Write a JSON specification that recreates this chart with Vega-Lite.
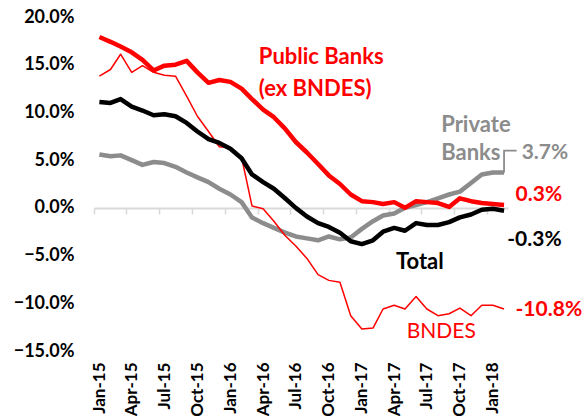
{
  "$schema": "https://vega.github.io/schema/vega-lite/v6.json",
  "width": 414,
  "height": 334,
  "autosize": {"type": "none"},
  "padding": {"left": 94, "top": 17, "right": 80, "bottom": 68},
  "config": {"view": {"stroke": null}, "font": "Lato", "text": {"font": "Lato"}},
  "datasets": {
    "credit": [
      {"date": "2015-01-01", "Public Banks": 17.9, "BNDES": 13.8, "Private Banks": 5.6, "Total": 11.1},
      {"date": "2015-02-01", "Public Banks": 17.4, "BNDES": 14.5, "Private Banks": 5.4, "Total": 11.0},
      {"date": "2015-03-01", "Public Banks": 16.9, "BNDES": 16.1, "Private Banks": 5.5, "Total": 11.4},
      {"date": "2015-04-01", "Public Banks": 16.3, "BNDES": 14.2, "Private Banks": 5.0, "Total": 10.6},
      {"date": "2015-05-01", "Public Banks": 15.5, "BNDES": 14.9, "Private Banks": 4.5, "Total": 10.2},
      {"date": "2015-06-01", "Public Banks": 14.4, "BNDES": 14.2, "Private Banks": 4.8, "Total": 9.7},
      {"date": "2015-07-01", "Public Banks": 14.9, "BNDES": 13.9, "Private Banks": 4.7, "Total": 9.8},
      {"date": "2015-08-01", "Public Banks": 15.0, "BNDES": 13.8, "Private Banks": 4.3, "Total": 9.6},
      {"date": "2015-09-01", "Public Banks": 15.4, "BNDES": 11.7, "Private Banks": 3.7, "Total": 8.9},
      {"date": "2015-10-01", "Public Banks": 14.2, "BNDES": 9.6, "Private Banks": 3.2, "Total": 8.0},
      {"date": "2015-11-01", "Public Banks": 13.1, "BNDES": 8.0, "Private Banks": 2.7, "Total": 7.2},
      {"date": "2015-12-01", "Public Banks": 13.4, "BNDES": 6.4, "Private Banks": 2.0, "Total": 6.8},
      {"date": "2016-01-01", "Public Banks": 13.2, "BNDES": 6.3, "Private Banks": 1.4, "Total": 6.2},
      {"date": "2016-02-01", "Public Banks": 12.5, "BNDES": 5.3, "Private Banks": 0.6, "Total": 5.2},
      {"date": "2016-03-01", "Public Banks": 11.4, "BNDES": 0.2, "Private Banks": -1.0, "Total": 3.5},
      {"date": "2016-04-01", "Public Banks": 10.3, "BNDES": -0.1, "Private Banks": -1.6, "Total": 2.7},
      {"date": "2016-05-01", "Public Banks": 9.5, "BNDES": -1.4, "Private Banks": -2.1, "Total": 2.0},
      {"date": "2016-06-01", "Public Banks": 8.3, "BNDES": -2.9, "Private Banks": -2.6, "Total": 1.0},
      {"date": "2016-07-01", "Public Banks": 6.9, "BNDES": -4.0, "Private Banks": -3.0, "Total": 0.0},
      {"date": "2016-08-01", "Public Banks": 5.8, "BNDES": -5.3, "Private Banks": -3.2, "Total": -0.9},
      {"date": "2016-09-01", "Public Banks": 4.6, "BNDES": -7.0, "Private Banks": -3.4, "Total": -1.6},
      {"date": "2016-10-01", "Public Banks": 3.4, "BNDES": -7.6, "Private Banks": -3.0, "Total": -2.0},
      {"date": "2016-11-01", "Public Banks": 2.5, "BNDES": -7.8, "Private Banks": -3.3, "Total": -2.6},
      {"date": "2016-12-01", "Public Banks": 1.4, "BNDES": -11.3, "Private Banks": -3.1, "Total": -3.5},
      {"date": "2017-01-01", "Public Banks": 0.7, "BNDES": -12.7, "Private Banks": -2.2, "Total": -3.8},
      {"date": "2017-02-01", "Public Banks": 0.6, "BNDES": -12.6, "Private Banks": -1.4, "Total": -3.4},
      {"date": "2017-03-01", "Public Banks": 0.4, "BNDES": -10.6, "Private Banks": -0.8, "Total": -2.5},
      {"date": "2017-04-01", "Public Banks": 0.6, "BNDES": -10.2, "Private Banks": -0.6, "Total": -2.1},
      {"date": "2017-05-01", "Public Banks": 0.0, "BNDES": -10.6, "Private Banks": 0.0, "Total": -2.4},
      {"date": "2017-06-01", "Public Banks": 0.7, "BNDES": -9.3, "Private Banks": 0.3, "Total": -1.6},
      {"date": "2017-07-01", "Public Banks": 0.6, "BNDES": -10.6, "Private Banks": 0.6, "Total": -1.8},
      {"date": "2017-08-01", "Public Banks": 0.5, "BNDES": -11.3, "Private Banks": 1.0, "Total": -1.8},
      {"date": "2017-09-01", "Public Banks": 0.1, "BNDES": -11.1, "Private Banks": 1.4, "Total": -1.5},
      {"date": "2017-10-01", "Public Banks": 1.0, "BNDES": -10.5, "Private Banks": 1.7, "Total": -1.0},
      {"date": "2017-11-01", "Public Banks": 0.7, "BNDES": -11.3, "Private Banks": 2.6, "Total": -0.7},
      {"date": "2017-12-01", "Public Banks": 0.5, "BNDES": -10.2, "Private Banks": 3.5, "Total": -0.2},
      {"date": "2018-01-01", "Public Banks": 0.4, "BNDES": -10.2, "Private Banks": 3.7, "Total": -0.1},
      {"date": "2018-02-01", "Public Banks": 0.3, "BNDES": -10.6, "Private Banks": 3.7, "Total": -0.3}
    ],
    "leader": [
      {"date": "2018-02-01", "value": 3.7, "step": 1},
      {"date": "2018-02-01", "value": 6.0, "step": 2},
      {"date": "2018-03-08", "value": 6.0, "step": 3}
    ],
    "notes": [
      {"date": "2016-03-20", "value": 15.8, "text": "Public Banks", "series": "Public Banks"},
      {"date": "2016-03-20", "value": 12.5, "text": "(ex BNDES)", "series": "Public Banks"},
      {"date": "2017-08-10", "value": 8.7, "text": "Private", "series": "Private Banks"},
      {"date": "2017-08-10", "value": 5.75, "text": "Banks", "series": "Private Banks"},
      {"date": "2018-03-22", "value": 5.75, "text": "3.7%", "series": "Private Banks"},
      {"date": "2018-03-05", "value": 1.35, "text": "0.3%", "series": "Public Banks"},
      {"date": "2018-02-10", "value": -3.4, "text": "-0.3%", "series": "Total"},
      {"date": "2017-04-06", "value": -5.65, "text": "Total", "series": "Total"},
      {"date": "2018-03-05", "value": -10.7, "text": "-10.8%", "series": "BNDES"},
      {"date": "2017-05-06", "value": -13.0, "text": "BNDES", "series": "BNDES"}
    ]
  },
  "encoding": {
    "x": {
      "field": "date",
      "type": "temporal",
      "scale": {
        "type": "utc",
        "domain": [
          {"year": 2014, "month": 12, "date": 17, "utc": true},
          {"year": 2018, "month": 2, "date": 12, "utc": true}
        ]
      },
      "axis": {
        "title": null,
        "format": "%b-%y",
        "values": [
          {"year": 2015, "month": 1, "date": 1, "utc": true},
          {"year": 2015, "month": 4, "date": 1, "utc": true},
          {"year": 2015, "month": 7, "date": 1, "utc": true},
          {"year": 2015, "month": 10, "date": 1, "utc": true},
          {"year": 2016, "month": 1, "date": 1, "utc": true},
          {"year": 2016, "month": 4, "date": 1, "utc": true},
          {"year": 2016, "month": 7, "date": 1, "utc": true},
          {"year": 2016, "month": 10, "date": 1, "utc": true},
          {"year": 2017, "month": 1, "date": 1, "utc": true},
          {"year": 2017, "month": 4, "date": 1, "utc": true},
          {"year": 2017, "month": 7, "date": 1, "utc": true},
          {"year": 2017, "month": 10, "date": 1, "utc": true},
          {"year": 2018, "month": 1, "date": 1, "utc": true}
        ],
        "offset": -143,
        "grid": false,
        "domainColor": "#d9d9d9",
        "domainWidth": 2,
        "tickColor": "#d9d9d9",
        "tickWidth": 1.5,
        "tickSize": 6,
        "tickOffset": -5.5,
        "labelOffset": 5.5,
        "labelAngle": -90,
        "labelPadding": 148,
        "labelFont": "Lato",
        "labelFontSize": 17,
        "labelFontWeight": "bold",
        "labelColor": "#000000",
        "labelFlush": false,
        "labelOverlap": false
      }
    },
    "y": {
      "field": "value",
      "type": "quantitative",
      "scale": {"domain": [-15, 20], "nice": false, "zero": false},
      "axis": {
        "title": null,
        "values": [-15, -10, -5, 0, 5, 10, 15, 20],
        "labelExpr": "format(datum.value, '.1f') + '%'",
        "domain": false,
        "ticks": false,
        "grid": false,
        "labelPadding": 20,
        "labelFont": "Lato",
        "labelFontSize": 18,
        "labelFontWeight": "bold",
        "labelColor": "#000000"
      }
    }
  },
  "layer": [
    {
      "data": {"name": "credit"},
      "transform": [
        {"fold": ["Private Banks", "BNDES", "Public Banks", "Total"], "as": ["series", "value"]}
      ],
      "mark": {"type": "line", "clip": false, "strokeJoin": "round"},
      "encoding": {
        "color": {
          "field": "series",
          "type": "nominal",
          "scale": {
            "domain": ["Public Banks", "BNDES", "Private Banks", "Total"],
            "range": ["#ff0000", "#ff0000", "#8c8c8c", "#000000"]
          },
          "legend": null
        },
        "strokeWidth": {
          "field": "series",
          "type": "nominal",
          "scale": {
            "type": "ordinal",
            "domain": ["Public Banks", "BNDES", "Private Banks", "Total"],
            "range": [4.5, 1.5, 4.5, 4.5]
          },
          "legend": null
        }
      }
    },
    {
      "data": {"name": "leader"},
      "mark": {"type": "line", "clip": false, "color": "#8c8c8c", "strokeWidth": 1.8},
      "encoding": {
        "order": {"field": "step", "type": "quantitative"}
      }
    },
    {
      "data": {"name": "notes"},
      "transform": [{"filter": "datum.text != 'BNDES' && indexof(datum.text, '%') < 0"}],
      "mark": {"type": "text", "clip": false, "align": "left", "baseline": "middle", "font": "Lato", "fontSize": 22, "fontWeight": "bold"},
      "encoding": {
        "text": {"field": "text"},
        "color": {"field": "series", "type": "nominal", "legend": null}
      }
    },
    {
      "data": {"name": "notes"},
      "transform": [{"filter": "indexof(datum.text, '%') >= 0"}],
      "mark": {"type": "text", "clip": false, "align": "left", "baseline": "middle", "font": "Lato", "fontSize": 21, "fontWeight": "bold"},
      "encoding": {
        "text": {"field": "text"},
        "color": {"field": "series", "type": "nominal", "legend": null}
      }
    },
    {
      "data": {"name": "notes"},
      "transform": [{"filter": "datum.text == 'BNDES'"}],
      "mark": {"type": "text", "clip": false, "align": "left", "baseline": "middle", "font": "Lato", "fontSize": 21, "fontWeight": "normal"},
      "encoding": {
        "text": {"field": "text"},
        "color": {"field": "series", "type": "nominal", "legend": null}
      }
    }
  ]
}
